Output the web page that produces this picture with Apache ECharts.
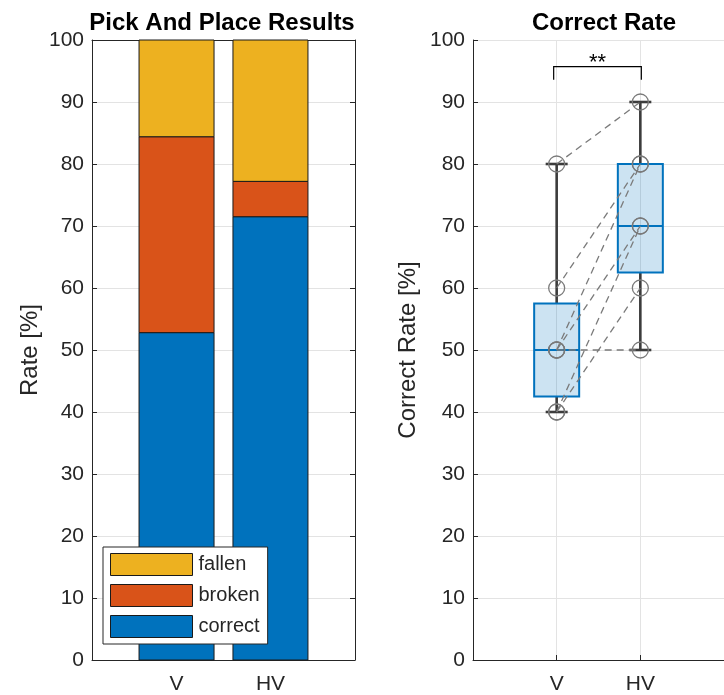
<!DOCTYPE html>
<html><head><meta charset="utf-8">
<script src="https://cdn.jsdelivr.net/npm/echarts@6/dist/echarts.min.js"></script>
<style>html,body{margin:0;padding:0;background:#fff}#c{width:724px;height:695px}</style>
</head><body><div id="c"></div>
<script>
// ---- data ----
const categories = ['V', 'HV'];
const catPos = [1, 2];
const correct = [52.8, 71.5];
const broken = [31.6, 5.7];
const fallen = [15.6, 22.8];

const vScores = [80, 60, 50, 50, 50, 40, 40];
const hvScores = [90, 80, 50, 80, 70, 70, 60];
// [lower whisker, q1, median, q3, upper whisker]
const boxV = [40, 42.5, 50, 57.5, 80];
const boxHV = [50, 62.5, 70, 80, 90];
const sigLevel = 95.7;
const sigLabel = '**';

// ---- style ----
const FONT = '"Liberation Sans", Arial, Helvetica, sans-serif';
const AX = '#262626';
const GRID = '#e3e3e3';
const C_BLUE = '#0072BD', C_ORANGE = '#D95319', C_YELLOW = '#EDB120';

const chart = echarts.init(document.getElementById('c'));

function xAxisCfg(grid, min, max, pos, labels, split) {
  return {
    type: 'value', gridIndex: grid, min: min, max: max, position: pos,
    axisLine: { show: true, onZero: false, lineStyle: { color: AX, width: 1 } },
    axisTick: { show: true, inside: true, length: 5, customValues: catPos, lineStyle: { color: AX } },
    axisLabel: labels ? { show: true, customValues: catPos, fontSize: 21, fontFamily: FONT, color: AX, margin: 14,
      formatter: v => categories[catPos.indexOf(Math.round(v))] || '' } : { show: false },
    splitLine: split ? { show: true, lineStyle: { color: GRID, width: 1 } } : { show: false }
  };
}
function yAxisCfg(grid, pos, labels, split, name) {
  return {
    type: 'value', gridIndex: grid, min: 0, max: 100, interval: 10, position: pos,
    axisLine: { show: true, onZero: false, lineStyle: { color: AX, width: 1 } },
    axisTick: { show: true, inside: true, length: 5, lineStyle: { color: AX } },
    axisLabel: labels ? { show: true, fontSize: 21, fontFamily: FONT, color: AX, margin: 8 } : { show: false },
    splitLine: split ? { show: true, lineStyle: { color: GRID, width: 1 } } : { show: false },
    name: name || '', nameLocation: 'middle', nameGap: grid === 0 ? 50 : 53,
    nameTextStyle: { fontSize: 24, fontFamily: FONT, color: AX }
  };
}

// stacked bars: each segment drawn from its running base to its top
const layers = [['correct', correct, C_BLUE], ['broken', broken, C_ORANGE], ['fallen', fallen, C_YELLOW]];
const running = categories.map(() => 0);
const barSeries = layers.map(([name, vals, col]) => {
  const data = vals.map((v, i) => {
    const base = running[i];
    running[i] += v;
    return [catPos[i], base, running[i]];
  });
  return {
    name: name, type: 'custom', xAxisIndex: 0, yAxisIndex: 0, z: 2,
    data: data, encode: { x: 0, y: [1, 2] },
    itemStyle: { color: col, borderColor: '#1a1a1a', borderWidth: 1 },
    renderItem: function (params, api) {
      const lo = api.coord([api.value(0), api.value(1)]);
      const hi = api.coord([api.value(0), api.value(2)]);
      const bw = 75;
      return { type: 'rect', shape: { x: lo[0] - bw / 2, y: hi[1], width: bw, height: lo[1] - hi[1] },
        style: { fill: col, stroke: '#1a1a1a', lineWidth: 1 } };
    }
  };
});

const boxSeries = {
  type: 'custom', xAxisIndex: 2, yAxisIndex: 1, clip: false, z: 3,
  data: [[catPos[0]].concat(boxV), [catPos[1]].concat(boxHV)],
  encode: { x: 0, y: [1, 2, 3, 4, 5] },
  renderItem: function (params, api) {
    const x = api.value(0);
    const pLo = api.coord([x, api.value(1)]);
    const pQ1 = api.coord([x, api.value(2)]);
    const pMed = api.coord([x, api.value(3)]);
    const pQ3 = api.coord([x, api.value(4)]);
    const pHi = api.coord([x, api.value(5)]);
    const cx = pMed[0], bw = 45, cw = 22;
    const wStyle = { stroke: '#3c3c3c', lineWidth: 2.6 };
    return { type: 'group', children: [
      { type: 'line', shape: { x1: cx, y1: pQ3[1], x2: cx, y2: pHi[1] }, style: wStyle },
      { type: 'line', shape: { x1: cx, y1: pQ1[1], x2: cx, y2: pLo[1] }, style: wStyle },
      { type: 'line', shape: { x1: cx - cw / 2, y1: pHi[1], x2: cx + cw / 2, y2: pHi[1] }, style: wStyle },
      { type: 'line', shape: { x1: cx - cw / 2, y1: pLo[1], x2: cx + cw / 2, y2: pLo[1] }, style: wStyle },
      { type: 'rect', shape: { x: cx - bw / 2, y: pQ3[1], width: bw, height: pQ1[1] - pQ3[1] },
        style: { fill: 'rgba(0,114,189,0.2)', stroke: C_BLUE, lineWidth: 2 } },
      { type: 'line', shape: { x1: cx - bw / 2, y1: pMed[1], x2: cx + bw / 2, y2: pMed[1] },
        style: { stroke: C_BLUE, lineWidth: 2 } }
    ]};
  }
};

const pairSeries = {
  type: 'custom', xAxisIndex: 2, yAxisIndex: 1, clip: false, z: 4,
  data: vScores.map((v, i) => [v, hvScores[i]]),
  encode: { y: [0, 1] },
  renderItem: function (params, api) {
    const a = api.coord([catPos[0], api.value(0)]);
    const b = api.coord([catPos[1], api.value(1)]);
    return { type: 'line', shape: { x1: a[0], y1: a[1], x2: b[0], y2: b[1] },
      style: { stroke: '#7a7a7a', lineWidth: 1.3, lineDash: [7, 5] } };
  }
};

const pointSeries = {
  type: 'scatter', xAxisIndex: 2, yAxisIndex: 1, z: 5,
  symbol: 'circle', symbolSize: 16,
  data: vScores.map(v => [catPos[0], v]).concat(hvScores.map(v => [catPos[1], v])),
  itemStyle: { color: 'rgba(0,0,0,0)', borderColor: '#7a7a7a', borderWidth: 1.3, opacity: 1 },
  emphasis: { disabled: true }
};

const sigSeries = {
  type: 'custom', xAxisIndex: 2, yAxisIndex: 1, clip: false, z: 6,
  data: [[catPos[0], catPos[1], sigLevel]],
  encode: { x: [0, 1], y: 2 },
  renderItem: function (params, api) {
    const a = api.coord([api.value(0), api.value(2)]);
    const b = api.coord([api.value(1), api.value(2)]);
    return { type: 'group', children: [
      { type: 'polyline', shape: { points: [[a[0] - 3, a[1] + 13], [a[0] - 3, a[1]], [b[0] + 1, b[1]], [b[0] + 1, b[1] + 13]] },
        style: { stroke: '#000', lineWidth: 1.2, fill: null } },
      { type: 'text', x: (a[0] + b[0]) / 2 - 1, y: a[1] + 7,
        style: { text: sigLabel, font: '22px ' + FONT, fill: '#000', align: 'center', verticalAlign: 'bottom',
                 textAlign: 'center', textVerticalAlign: 'bottom' } }
    ]};
  }
};

chart.setOption({
  animation: false,
  backgroundColor: '#fff',
  textStyle: { fontFamily: FONT },
  grid: [
    { left: 92, top: 40, width: 263, height: 623, containLabel: false },
    { left: 473, top: 40, width: 264, height: 623, containLabel: false }
  ],
  xAxis: [
    xAxisCfg(0, 0.1, 2.9, 'bottom', true, false),
    xAxisCfg(0, 0.1, 2.9, 'top', false, false),
    xAxisCfg(1, 0, 3, 'bottom', true, true)
  ],
  yAxis: [
    yAxisCfg(0, 'left', true, true, 'Rate [%]'),
    yAxisCfg(1, 'left', true, true, 'Correct Rate [%]'),
    yAxisCfg(0, 'right', false, false)
  ],
  legend: {
    data: ['fallen', 'broken', 'correct'],
    orient: 'vertical', left: 103, top: 547,
    itemWidth: 82, itemHeight: 22, itemGap: 8,
    padding: [6, 8, 6, 7],
    backgroundColor: '#fff', borderColor: AX, borderWidth: 1, borderRadius: 0,
    icon: 'rect', selectedMode: false,
    itemStyle: { borderColor: '#1a1a1a', borderWidth: 1 },
    textStyle: { fontSize: 20, fontFamily: FONT, color: AX, padding: [0, 0, 0, 1] }
  },
  graphic: [
    { type: 'text', x: 222, y: 23, style: { text: 'Pick And Place Results', font: 'bold 24px ' + FONT, fill: '#000',
      align: 'center', verticalAlign: 'middle', textAlign: 'center', textVerticalAlign: 'middle' } },
    { type: 'text', x: 604, y: 23, style: { text: 'Correct Rate', font: 'bold 24px ' + FONT, fill: '#000',
      align: 'center', verticalAlign: 'middle', textAlign: 'center', textVerticalAlign: 'middle' } }
  ],
  series: barSeries.concat([boxSeries, pairSeries, pointSeries, sigSeries])
});
</script>
</body></html>
